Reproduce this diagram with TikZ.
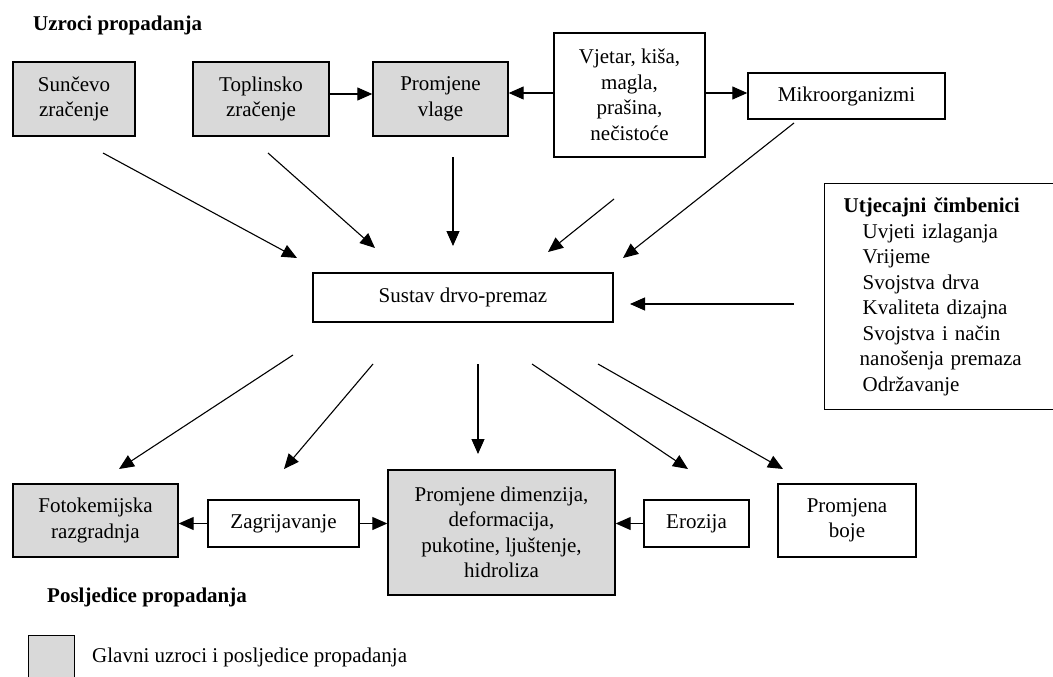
\documentclass[tikz,border=0pt]{standalone}
\usepackage{fontspec}
\setmainfont{Liberation Serif}
\usepackage{tikz}
\usetikzlibrary{arrows.meta, calc, positioning}
\definecolor{causegray}{RGB}{217,217,217}

\begin{document}
\begin{tikzpicture}[
    x=1pt, y=-1pt,
    font=\fontsize{21}{25.5}\selectfont,
    box/.style={draw, line width=1.4pt, align=center, inner sep=0pt},
    mainbox/.style={box, fill=causegray},
    heading/.style={font=\fontsize{21}{25.5}\selectfont\bfseries, anchor=west, inner sep=0pt},
    arrow/.style={-{Triangle[length=15pt, width=13pt]}, line width=1.1pt}
]
\useasboundingbox (0,0) rectangle (1053,677);

% Causes
\node[heading] (causes) at (33,25) {Uzroci propadanja};
\node[mainbox, minimum width=122pt, minimum height=74pt] (sun) at (74,99) {Sunčevo\\ zračenje};
\node[mainbox, minimum width=136pt, minimum height=74pt] (heat) at (261,99) {Toplinsko\\ zračenje};
\node[mainbox, minimum width=135pt, minimum height=74pt] (moist) at (440.5,99) {Promjene\\ vlage};
\node[box, minimum width=151pt, minimum height=124pt] (weather) at (629.5,95) {Vjetar, kiša,\\ magla,\\ prašina,\\ nečistoće};
\node[box, minimum width=197pt, minimum height=46pt] (micro) at (846.5,96) {Mikroorganizmi};

% System and factors
\node[box, minimum width=300pt, minimum height=49pt] (system) at (463,297.5) {Sustav drvo-premaz};
\node[box, anchor=north west, align=left, text width=230pt, minimum height=226pt, inner xsep=19pt] (factors) at (824,183) {%
  \textbf{Utjecajni čimbenici}\\
  \hspace*{19pt}Uvjeti izlaganja\\
  \hspace*{19pt}Vrijeme\\
  \hspace*{19pt}Svojstva drva\\
  \hspace*{19pt}Kvaliteta dizajna\\
  \hspace*{19pt}Svojstva i način\\
  \hspace*{16pt}nanošenja premaza\\
  \hspace*{19pt}Održavanje};

% Consequences
\node[mainbox, minimum width=165pt, minimum height=73pt] (photo) at (95.5,520.5) {Fotokemijska\\ razgradnja};
\node[box, minimum width=151pt, minimum height=47pt] (warm) at (283.5,523.5) {Zagrijavanje};
\node[mainbox, minimum width=227pt, minimum height=125pt] (dim) at (501.5,532.5) {Promjene dimenzija,\\ deformacija,\\ pukotine, ljuštenje,\\ hidroliza};
\node[box, minimum width=105pt, minimum height=47pt] (erosion) at (696.5,523.5) {Erozija};
\node[box, minimum width=138pt, minimum height=73pt] (colour) at (847,520.5) {Promjena\\ boje};
\node[heading] (effects) at (47,597) {Posljedice propadanja};

% Legend
\node[mainbox, anchor=north west, minimum width=46pt, minimum height=60pt] (legend) at (28,635) {};
\node[anchor=west, inner sep=0pt] (legendtext) at (92,657) {Glavni uzroci i posljedice propadanja};

% Arrow ends
\coordinate (sunout) at (103,153);   \coordinate (sunin) at (297,258);
\coordinate (heatout) at (268,153);  \coordinate (heatin) at (375,248);
\coordinate (moistout) at (453,157); \coordinate (moistin) at (453,246);
\coordinate (weatherout) at (614,199); \coordinate (weatherin) at (548,252);
\coordinate (microout) at (794,123); \coordinate (microin) at (623,258);
\coordinate (factorsout) at (794,304); \coordinate (factorsin) at (630,304);
\coordinate (photoout) at (293,355); \coordinate (photoin) at (119,469);
\coordinate (warmout) at (373,364);  \coordinate (warmin) at (284,469);
\coordinate (dimout) at (478,364);   \coordinate (dimin) at (478,454);
\coordinate (erosionout) at (532,364); \coordinate (erosionin) at (688,469);
\coordinate (colourout) at (598,364); \coordinate (colourin) at (783,469);

% Arrows
\draw[arrow] ([yshift=5pt]heat.east) -- ([yshift=5pt]moist.west);
\draw[arrow] ([yshift=2pt]weather.west) -- ([yshift=6pt]moist.east);
\draw[arrow] ([yshift=2pt]weather.east) -- ([yshift=3pt]micro.west);
\draw[arrow] (sunout) -- (sunin);
\draw[arrow] (heatout) -- (heatin);
\draw[arrow] (moistout) -- (moistin);
\draw[arrow] (weatherout) -- (weatherin);
\draw[arrow] (microout) -- (microin);
\draw[arrow] (factorsout) -- (factorsin);
\draw[arrow] (photoout) -- (photoin);
\draw[arrow] (warmout) -- (warmin);
\draw[arrow] (dimout) -- (dimin);
\draw[arrow] (erosionout) -- (erosionin);
\draw[arrow] (colourout) -- (colourin);
\draw[arrow] (warm.west) -- (warm.west -| photo.east);
\draw[arrow] (warm.east) -- (warm.east -| dim.west);
\draw[arrow] (erosion.west) -- (erosion.west -| dim.east);

\end{tikzpicture}
\end{document}
